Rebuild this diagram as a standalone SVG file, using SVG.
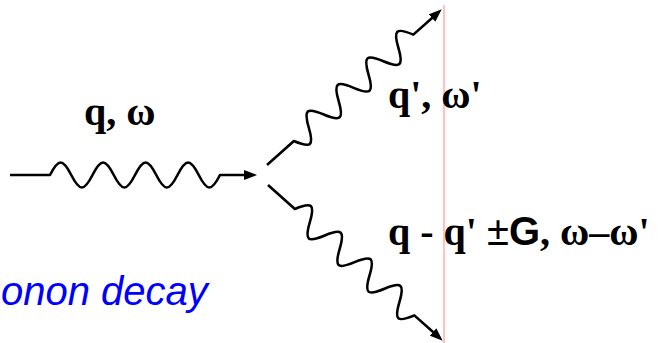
<svg xmlns="http://www.w3.org/2000/svg" width="660" height="343" viewBox="0 0 660 343">
<style>
.ph{fill:none;stroke:#000;stroke-width:2.6;stroke-linejoin:round}
.lbl{font-family:"Liberation Serif","Times New Roman",serif;font-weight:bold;font-size:40px;fill:#000}
.sans{font-family:"Liberation Sans",Arial,sans-serif}
.cap{font-family:"Liberation Sans",Arial,sans-serif;font-style:italic;font-size:40px;fill:#0000ff}
</style>
<defs>
<marker id="ah" viewBox="0 0 13 10" refX="5" refY="5" markerWidth="13" markerHeight="10" markerUnits="userSpaceOnUse" orient="auto">
<path d="M0,0 L13,5 L0,10 z" fill="#000"/>
</marker>
</defs>
<line x1="444" y1="5" x2="444" y2="343" stroke="#ff9a9a" stroke-width="1.2"/>
<g id="connectors">
<path id="incoming" class="ph" marker-end="url(#ah)" d="M10,175 H50 c8.5,-16.7 12.75,-16.7 21.25,0 c8.5,16.7 12.75,16.7 21.25,0 c8.5,-16.7 12.75,-16.7 21.25,0 c8.5,16.7 12.75,16.7 21.25,0 c8.5,-16.7 12.75,-16.7 21.25,0 c8.5,16.7 12.75,16.7 21.25,0 c8.5,-16.7 12.75,-16.7 21.25,0 c8.5,16.7 12.75,16.7 21.25,0 H249"/>
<path id="upper" class="ph" marker-end="url(#ah)" transform="translate(267,165) rotate(-41.7)" d="M0,0 H36 c8,17 12,17 20,0 c8,-17 12,-17 20,0 c8,17 12,17 20,0 c8,-17 12,-17 20,0 c8,17 12,17 20,0 c8,-17 12,-17 20,0 c8,17 12,17 20,0 c8,-17 12,-17 20,0 H226"/>
<path id="lower" class="ph" marker-end="url(#ah)" transform="translate(268,185) rotate(41.7)" d="M0,0 H36 c8,-17 12,-17 20,0 c8,17 12,17 20,0 c8,-17 12,-17 20,0 c8,17 12,17 20,0 c8,-17 12,-17 20,0 c8,17 12,17 20,0 c8,-17 12,-17 20,0 c8,17 12,17 20,0 H226"/>
</g>
<g id="label-in"><text class="lbl" x="84" y="125">q, ω</text></g>
<g id="label-up"><text class="lbl" x="388" y="108">q', ω'</text></g>
<g id="label-down"><text class="lbl" x="388" y="245">q - q' <tspan class="sans" font-weight="normal">±</tspan><tspan class="sans">G</tspan>, ω–ω'</text></g>
<g id="caption"><text class="cap" x="1" y="305">onon decay</text></g>
</svg>
